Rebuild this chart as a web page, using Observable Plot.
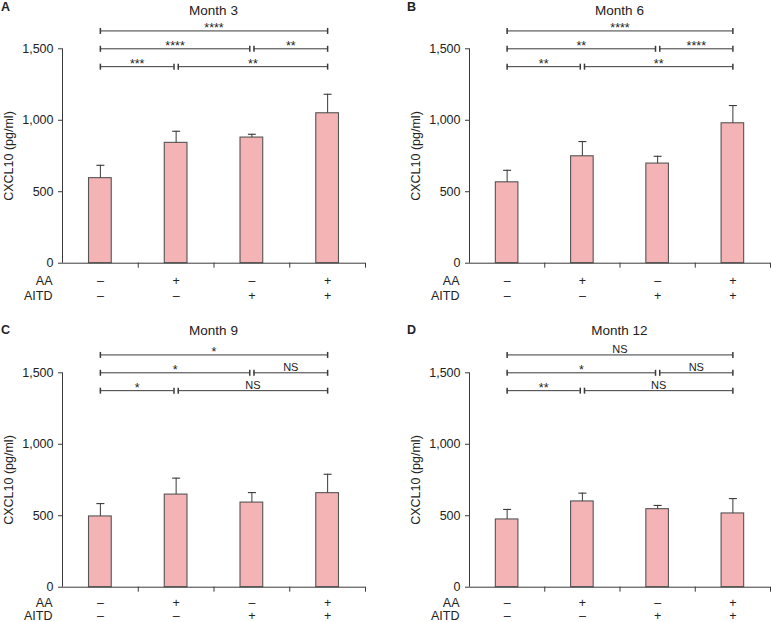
<!DOCTYPE html>
<html><head><meta charset="utf-8">
<script src="https://cdn.jsdelivr.net/npm/d3@7"></script>
<script src="https://cdn.jsdelivr.net/npm/@observablehq/plot@0.6"></script>
<style>
body{margin:0;background:#fff;overflow:hidden;font-family:"Liberation Sans",Arial,Helvetica,sans-serif;color:#222;}
#root{position:relative;width:771px;height:622px;overflow:hidden;}
.panel{position:absolute;}
.panel svg{overflow:visible;}
.letter{position:absolute;font-weight:bold;font-size:12.5px;line-height:1;}
.title{position:absolute;font-size:13.5px;line-height:1;text-align:center;}
</style></head><body><div id="root"></div>
<script>
// ---- data ----
const panelLetters = ["A", "B", "C", "D"];
const panelTitles = ["Month 3", "Month 6", "Month 9", "Month 12"];
const aaSigns = ["–", "+", "–", "+"];
const aitdSigns = ["–", "–", "+", "+"];
const rowNames = ["AA", "AITD"];
const yLabel = "CXCL10 (pg/ml)";
const yTicks = [0, 500, 1000, 1500];

const meansMonth3 = [595, 842, 879, 1049];
const errMonth3 = [90, 81, 23, 133];
const meansMonth6 = [566, 748, 697, 979];
const errMonth6 = [84, 103, 51, 124];
const meansMonth9 = [495, 648, 592, 658];
const errMonth9 = [90, 115, 70, 132];
const meansMonth12 = [474, 600, 546, 516];
const errMonth12 = [70, 58, 26, 104];

// significance brackets: from group, to group, row
const bracketFrom = [0, 0, 2, 0, 1];
const bracketTo = [3, 2, 3, 1, 3];
const bracketRow = [0, 1, 1, 2, 2];
const bracketLevels = [1625, 1500, 1375];
const sigMonth3 = ["****", "****", "**", "***", "**"];
const sigMonth6 = ["****", "**", "****", "**", "**"];
const sigMonth9 = ["*", "*", "NS", "*", "NS"];
const sigMonth12 = ["NS", "*", "NS", "**", "NS"];

const allMeans = [meansMonth3, meansMonth6, meansMonth9, meansMonth12];
const allErr = [errMonth3, errMonth6, errMonth9, errMonth12];
const allSig = [sigMonth3, sigMonth6, sigMonth9, sigMonth12];

// ---- layout / style ----
const panelBoxes = [
  {left: 0, top: 0, width: 365, titleTop: 4.3, letterTop: 1.1, letterLeft: 1, rowDy: 11, rowLH: 1.2},
  {left: 407, top: 0, width: 363, titleTop: 4.3, letterTop: 1.1, letterLeft: 0, rowDy: 11, rowLH: 1.2},
  {left: 0, top: 324, width: 365, titleTop: 324.3, letterTop: 324.4, letterLeft: 1, rowDy: 10.5, rowLH: 1.04},
  {left: 407, top: 324, width: 363, titleTop: 324.3, letterTop: 324.4, letterLeft: 0, rowDy: 10.5, rowLH: 1.04}
];
const BAR_HALF = 0.15;
const GAP = 0.028;
const ink = "#3a3a3a";
const vLine = {draw(ctx, size) { const r = Math.sqrt(size / Math.PI); ctx.moveTo(0, -r); ctx.lineTo(0, r); }};
const hLine = {draw(ctx, size) { const r = Math.sqrt(size / Math.PI); ctx.moveTo(-r, 0); ctx.lineTo(r, 0); }};

function makePanel(k) {
  const box = panelBoxes[k];
  const groups = aaSigns.map((aa, i) => ({
    pos: i + 0.5, aa, aitd: aitdSigns[i], mean: allMeans[k][i], err: allErr[k][i]
  }));
  const segs = bracketFrom.map((f, j) => {
    const t = bracketTo[j];
    return {
      x1: f + 0.5 + (f > 0 ? GAP : 0),
      x2: t + 0.5 - (t < 3 ? GAP : 0),
      y: bracketLevels[bracketRow[j]],
      label: allSig[k][j]
    };
  });
  const caps = segs.flatMap(s => [{x: s.x1, y: s.y}, {x: s.x2, y: s.y}]);
  const isNS = d => d.label === "NS";

  const chart = Plot.plot({
    width: box.width,
    height: 305,
    marginLeft: 62,
    marginRight: 0,
    marginTop: 48.3,
    marginBottom: 42.3,
    style: {fontFamily: '"Liberation Sans", Arial, Helvetica, sans-serif', fontSize: "12.5px", color: "#222", background: "transparent", overflow: "visible"},
    x: {domain: [0, 4], axis: null, label: null},
    y: {domain: [0, 1500], axis: null, label: null},
    marks: [
      Plot.axisY({ticks: yTicks, tickFormat: d3.format(","), tickSize: 4, tickPadding: 5,
        label: yLabel, labelAnchor: "center", labelOffset: 58, labelArrow: "none", stroke: ink}),
      Plot.axisX({ticks: [1, 2, 3, 4], tickSize: 5, tickFormat: () => "", label: null, stroke: ink}),
      Plot.rect(groups, {x1: d => d.pos - BAR_HALF, x2: d => d.pos + BAR_HALF, y1: 0, y2: "mean",
        fill: "#f4b3b4", stroke: "#555", strokeWidth: 1.1}),
      Plot.ruleX(groups, {x: "pos", y1: "mean", y2: d => d.mean + d.err, stroke: ink}),
      Plot.dot(groups, {x: "pos", y: d => d.mean + d.err, symbol: hLine, r: 4, fill: "none", stroke: ink, strokeWidth: 1.1}),
      Plot.ruleY([0], {stroke: ink}),
      Plot.ruleX([0], {y1: 0, y2: 1500, stroke: ink}),
      Plot.text(groups, {x: "pos", text: d => d.aa + "\n" + d.aitd, frameAnchor: "bottom",
        lineAnchor: "top", dy: box.rowDy, lineHeight: box.rowLH, fontSize: 12.5, fill: "#222"}),
      Plot.text([rowNames.join("\n")], {text: d => d, frameAnchor: "bottom-left", textAnchor: "end",
        lineAnchor: "top", dx: -10, dy: box.rowDy, lineHeight: box.rowLH, fontSize: 12.5, fill: "#222"}),
      Plot.ruleY(segs, {x1: "x1", x2: "x2", y: "y", stroke: ink}),
      Plot.dot(caps, {x: "x", y: "y", symbol: vLine, r: 3, fill: "none", stroke: ink}),
      Plot.text(segs.filter(d => !isNS(d)), {x: d => (d.x1 + d.x2) / 2, y: "y", text: "label",
        lineAnchor: "bottom", dy: 1.5, fontSize: 12.5, fill: "#222"}),
      Plot.text(segs.filter(isNS), {x: d => (d.x1 + d.x2) / 2, y: "y", text: "label",
        lineAnchor: "bottom", dy: -2, fontSize: 11, fill: "#222"})
    ]
  });

  const root = document.getElementById("root");
  const wrap = document.createElement("div");
  wrap.className = "panel";
  wrap.style.left = box.left + "px";
  wrap.style.top = box.top + "px";
  wrap.appendChild(chart);
  root.appendChild(wrap);

  const title = document.createElement("div");
  title.className = "title";
  title.textContent = panelTitles[k];
  title.style.left = (box.left + 62) + "px";
  title.style.width = (box.width - 62) + "px";
  title.style.top = box.titleTop + "px";
  root.appendChild(title);

  const letter = document.createElement("div");
  letter.className = "letter";
  letter.textContent = panelLetters[k];
  letter.style.left = (box.left + box.letterLeft) + "px";
  letter.style.top = box.letterTop + "px";
  root.appendChild(letter);
}

for (let k = 0; k < 4; k++) makePanel(k);
</script>
</body></html>
